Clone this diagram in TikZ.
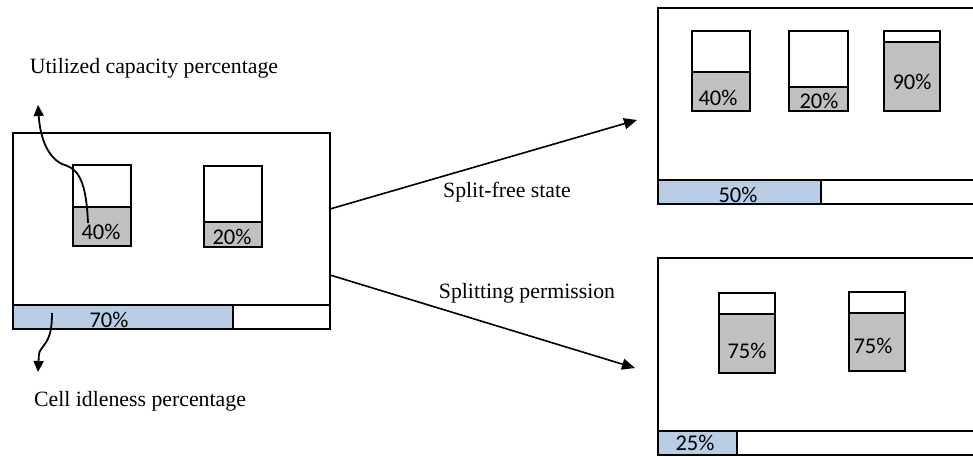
\documentclass[tikz,border=0pt]{standalone}
\usepackage{fontspec}
\setmainfont{Liberation Serif}
\newfontfamily\calib{Carlito}
\usetikzlibrary{arrows.meta}
\definecolor{barblue}{HTML}{B9CDE5}
\definecolor{fillgray}{HTML}{C0C0C0}
\tikzset{
  frame/.style={draw=black, line width=1.5pt},
  cellframe/.style={draw=black, line width=2pt},
  pct/.style={font=\calib\fontsize{22.5}{25}\selectfont, inner sep=0pt},
  lbl/.style={font=\fontsize{21.8}{25}\selectfont, inner sep=0pt},
  conn/.style={line width=1.6pt, -{Triangle[width=11pt,length=13pt]}},
  pointer/.style={line width=1.8pt, -{Triangle[width=10pt,length=11pt]}},
}
\begin{document}
\begin{tikzpicture}[x=1pt,y=-1pt]
\useasboundingbox (0,0) rectangle (973,456);
\clip (0,0) rectangle (973,456);

% ---------- left (source) cell ----------
\draw[frame] (13,133) rectangle (330,305);
\fill[barblue] (13,305) rectangle (233,329);
\draw[frame] (13,305) rectangle (330,329);
\draw[frame] (233,305) -- (233,329);
\node[pct] (s70) at (109,320) {70\%};
\coordinate (srcA) at (330,209);
\coordinate (srcB) at (330,275);

% cylinder 1 (40%)
\fill[fillgray] (73,207) rectangle (131,246);
\draw[cellframe] (73,165) rectangle (131,246);
\draw[cellframe] (73,207) -- (131,207);
\node[pct] (s40) at (101,232) {40\%};
% cylinder 2 (20%)
\fill[fillgray] (204,222) rectangle (262,247);
\draw[cellframe] (204,166) rectangle (262,247);
\draw[cellframe] (204,222) -- (262,222);
\node[pct] (s20) at (232,237) {20\%};

% ---------- top-right cell ----------
\draw[frame] (658,8) rectangle (990,180);
\fill[barblue] (658,180) rectangle (821,204);
\draw[frame] (658,180) rectangle (990,204);
\draw[frame] (821,180) -- (821,204);
\node[pct] (t50) at (738,195) {50\%};
\coordinate (upT) at (637,120);

\fill[fillgray] (692,72) rectangle (750,111);
\draw[cellframe] (692,31) rectangle (750,111);
\draw[cellframe] (692,72) -- (750,72);
\node[pct] (t40) at (718,98) {40\%};

\fill[fillgray] (789,87) rectangle (848,111);
\draw[cellframe] (789,31) rectangle (848,111);
\draw[cellframe] (789,87) -- (848,87);
\node[pct] (t20) at (819,101) {20\%};

\fill[fillgray] (884,42) rectangle (940,111);
\draw[cellframe] (884,31) rectangle (940,111);
\draw[cellframe] (884,42) -- (940,42);
\node[pct] (t90) at (912,82) {90\%};

% ---------- bottom-right cell ----------
\draw[frame] (658,258) rectangle (990,431);
\fill[barblue] (658,431) rectangle (737,455);
\draw[frame] (658,431) rectangle (990,455);
\draw[frame] (737,431) -- (737,455);
\node[pct] (b25) at (695,443) {25\%};
\coordinate (lowT) at (635,368);

\fill[fillgray] (719,314) rectangle (775,373);
\draw[cellframe] (719,293) rectangle (775,373);
\draw[cellframe] (719,314) -- (775,314);
\node[pct] (b75a) at (747,351) {75\%};

\fill[fillgray] (849,313) rectangle (905,371);
\draw[cellframe] (849,292) rectangle (905,371);
\draw[cellframe] (849,313) -- (905,313);
\node[pct] (b75b) at (873,346) {75\%};

% ---------- connectors ----------
\draw[conn] (srcA) -- (upT);
\draw[conn] (srcB) -- (lowT);
\node[lbl] (splitfree) at (507,192) {Split-free state};
\node[lbl] (splitperm) at (527,293) {Splitting permission};

% ---------- annotation pointers ----------
\node[lbl] (util) at (154,68) {Utilized capacity percentage};
\node[lbl] (idle) at (140,401) {Cell idleness percentage};
\coordinate (utilStart) at (88,223);
\coordinate (utilTip) at (38,105);
\coordinate (idleStart) at (52,313);
\coordinate (idleTip) at (38,372);
\draw[pointer] (utilStart) .. controls (86,172) and (74,168) .. (62,164)
  .. controls (46,156) and (40,135) .. (utilTip);
\draw[pointer] (idleStart) .. controls (52,338) and (46,342) .. (42,348)
  .. controls (39,352) .. (idleTip);
\end{tikzpicture}
\end{document}
